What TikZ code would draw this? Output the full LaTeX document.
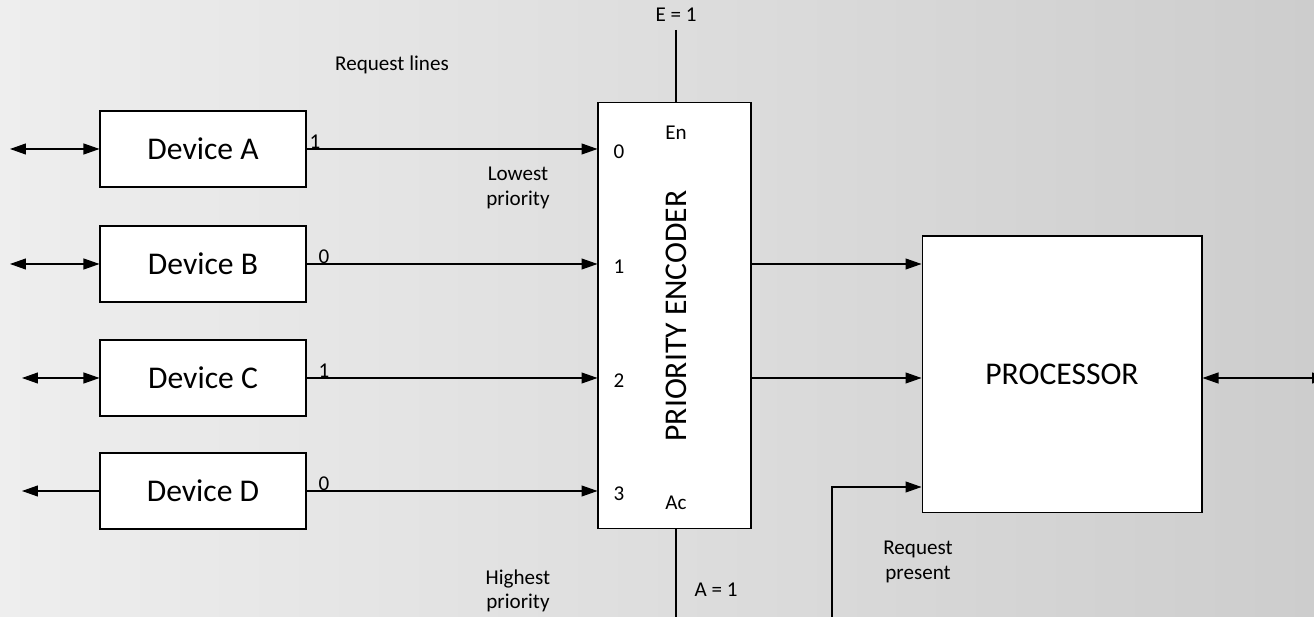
\documentclass[tikz,border=0pt]{standalone}
\usepackage{fontspec}
\setmainfont{Carlito}
\usetikzlibrary{arrows.meta}
\usetikzlibrary{positioning}
\definecolor{bgleft}{RGB}{238,238,238}
\definecolor{bgright}{RGB}{205,205,205}
\tikzset{
  block/.style = {
    draw, fill = white, line width = 0.6pt, inner sep = 0pt  }
}

\begin{document}
\begin{tikzpicture}[x=0.02cm, y=-0.02cm, line width=0.6pt,
device_style/.style={block, minimum width=4.12cm, minimum height=1.52cm, font=\fontsize{18}{20}\selectfont},
label_style/.style={font=\fontsize{12}{14}\selectfont, inner sep=0pt, align=center},
arrow_style/.style={-{Triangle[length=3.2mm,width=2.2mm]}},
both_way/.style={{Triangle[length=3.2mm,width=2.2mm]}-{Triangle[length=3.2mm,width=2.2mm]}},
left_way/.style={{Triangle[length=3.2mm,width=2.2mm]}-}]
\useasboundingbox (0,0) rectangle (1314,617);
\shade[left color=bgleft, right color=bgright] (0,0) rectangle (1314,617);

% encoder and processor
\node[block, minimum width=3.06cm, minimum height=8.54cm] (enc) at (674.5,315.5) {};
\node[rotate=90, font=\fontsize{18}{20}\selectfont] (encname) at (676,316) {PRIORITY ENCODER};
\node[block, minimum width=5.6cm, minimum height=5.54cm, font=\fontsize{18}{20}\selectfont] (proc) at (1062,374.5) {PROCESSOR};

% devices with their request lines
\foreach \y/\n/\s/\x/\v/\p/\tip in {149/A/10/315/1/0/both_way,264/B/10/324/0/1/both_way,378/C/22/324/1/2/both_way,491/D/22/324/0/3/left_way}{
 \node[device_style] (dev\n) at (203,\y) {Device \n};
 \coordinate (free\n) at (\s,\y);
 \draw[\tip] (free\n) -- (dev\n.west);
 \draw[arrow_style] (dev\n.east) -- (dev\n.east -| enc.west);
 \node[label_style] (val\n) at (\x,\y-7) {\v};
 \node[label_style] (pin\n) at (619,\y+3) {\p};
}

\node[label_style] (en) at (676,133) {En};
\node[label_style] (ac) at (676,503) {Ac};
\node[label_style] (reqlines) at (392,65) {Request lines};
\node[label_style] (lowest) at (518,188) {Lowest\\priority};
\node[label_style] (highest) at (518,591) {Highest\\priority};

% enable and acknowledge
\node[label_style] (elabel) at (676,15) {E = 1};
\coordinate (etop) at (676,30);
\draw (etop) -- (etop |- enc.north);
\coordinate (abot) at (676,620);
\draw (abot |- enc.south) -- (abot);
\node[label_style] (alabel) at (716,590) {A = 1};

% encoder outputs
\foreach \y in {264,378}{
 \draw[arrow_style] (enc.east |- 0,\y) -- (proc.west |- 0,\y);
}

% request present
\coordinate (reqbot) at (832,620);
\draw[arrow_style] (reqbot) |- (proc.west |- 0,487);
\node[label_style] (reqpresent) at (918,562) {Request\\present};

% processor bus
\coordinate (bus) at (1328,378);
\draw[both_way] (proc.east |- 0,378) -- (bus);
\end{tikzpicture}
\end{document}
